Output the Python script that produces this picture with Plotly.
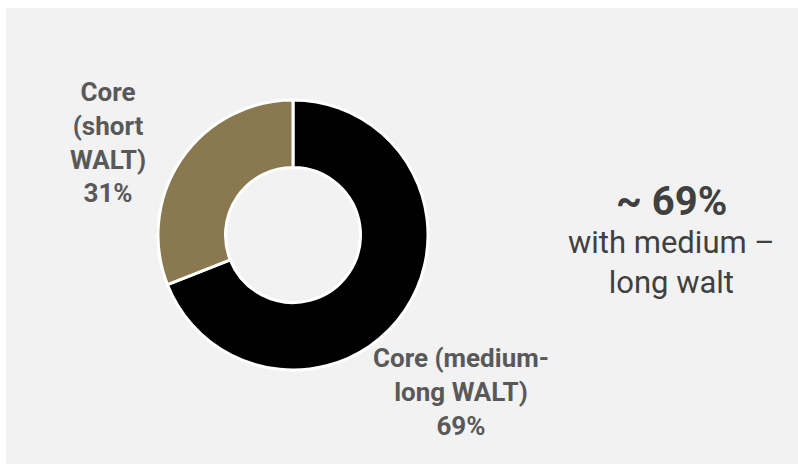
import plotly.graph_objects as go

labels = ["Core (medium-long WALT)", "Core (short WALT)"]
values = [69, 31]
colors = ["#000000", "#8a7851"]
label_texts = ["Core (medium-<br>long WALT)<br>69%", "Core<br>(short<br>WALT)<br>31%"]
headline = "~ 69%"
subline = "with medium –<br>long walt"

W, H = 798, 464

def px(x):
    return x / W

def py(y):
    return 1 - y / H

fig = go.Figure(go.Pie(
    labels=labels, values=values, hole=0.5, sort=False, direction="clockwise",
    rotation=0, marker=dict(colors=colors, line=dict(color="white", width=3)),
    textinfo="none", hoverinfo="label+percent", showlegend=False,
    domain=dict(x=[px(158), px(428)], y=[py(370), py(100)]),
))

fig.add_shape(type="rect", xref="paper", yref="paper", x0=px(6), x1=1, y0=0, y1=py(8),
              fillcolor="#f2f2f2", line=dict(width=0), layer="below")

def ann(x, y, text, font):
    fig.add_annotation(x=px(x), y=py(y), xref="paper", yref="paper", text=text,
                       showarrow=False, font=font, align="center",
                       xanchor="center", yanchor="middle")

lab_font = dict(family="Roboto", size=26, color="#595959")
ann(461, 392, "<b>" + label_texts[0] + "</b>", lab_font)
ann(108, 142, "<b>" + label_texts[1] + "</b>", lab_font)
ann(671, 201, "<b>" + headline + "</b>", dict(family="Roboto", size=40, color="#404040"))
ann(671, 262, subline, dict(family="Roboto", size=31, color="#404040"))

fig.update_layout(width=W, height=H, margin=dict(l=0, r=0, t=0, b=0),
                  paper_bgcolor="white", plot_bgcolor="white")
fig.write_html("out.html")
